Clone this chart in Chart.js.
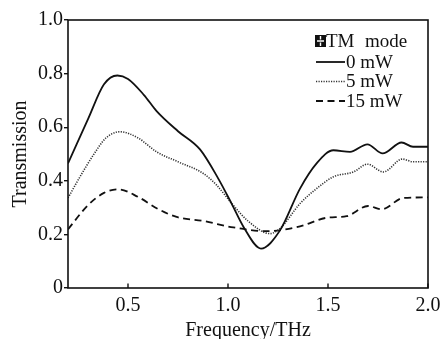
<!DOCTYPE html>
<html>
<head>
<title>Transmission</title>
<script src="https://cdn.jsdelivr.net/npm/chart.js@4/dist/chart.umd.min.js"></script>
<style>
  body { margin: 0; background: #fff; }
  #wrap { width: 440px; height: 339px; }
</style>
</head>
<body>
<div id="wrap"><canvas id="chart"></canvas></div>
<script>
// data
const freq0 = [0.2, 0.3, 0.38, 0.447, 0.5, 0.58, 0.643, 0.75, 0.86, 0.95, 1.018, 1.08, 1.165, 1.26, 1.36, 1.443, 1.527, 1.61, 1.697, 1.773, 1.868, 1.925, 2.0]
const trans0 = [0.465, 0.63, 0.76, 0.793, 0.78, 0.72, 0.66, 0.585, 0.517, 0.41, 0.315, 0.225, 0.147, 0.215, 0.371, 0.465, 0.514, 0.508, 0.536, 0.502, 0.543, 0.527, 0.527]

const freq5 = [0.2, 0.26, 0.33, 0.39, 0.46, 0.55, 0.643, 0.75, 0.877, 0.943, 1.018, 1.1, 1.21, 1.26, 1.36, 1.443, 1.527, 1.627, 1.697, 1.777, 1.872, 1.925, 2.0]
const trans5 = [0.336, 0.415, 0.5, 0.56, 0.583, 0.56, 0.508, 0.471, 0.427, 0.384, 0.316, 0.25, 0.203, 0.222, 0.315, 0.371, 0.415, 0.433, 0.462, 0.433, 0.481, 0.471, 0.471]

const freq15 = [0.2, 0.3, 0.38, 0.452, 0.55, 0.65, 0.743, 0.877, 1.027, 1.193, 1.36, 1.493, 1.593, 1.7, 1.768, 1.877, 2.0]
const trans15 = [0.219, 0.309, 0.355, 0.368, 0.34, 0.295, 0.265, 0.25, 0.226, 0.212, 0.23, 0.262, 0.268, 0.306, 0.294, 0.336, 0.338]

const seriesNames = ['0 mW', '5 mW', '15 mW']
const legendTitle = ['TM', 'mode']
const xTicks = [0.5, 1.0, 1.5, 2.0]
const xTickLabels = ['0.5', '1.0', '1.5', '2.0']
const yTicks = [0, 0.2, 0.4, 0.6, 0.8, 1.0]
const yTickLabels = ['0', '0.2', '0.4', '0.6', '0.8', '1.0']

const serif = "'Liberation Serif', 'DejaVu Serif', serif"

const pts = (xs, ys) => xs.map((x, i) => ({ x, y: ys[i] }))

const styles = [
    { dash: [], width: 1.8, color: '#111' },
    { dash: [1.2, 1.3], width: 1.6, color: '#333' },
    { dash: [7, 4.5], width: 1.8, color: '#111' },
]

// frame, inner x ticks and the hand-placed legend
const decor = {
    id: 'decor',
    afterDraw(chart) {
        const { ctx, chartArea: a, scales } = chart
        ctx.save()
        ctx.strokeStyle = '#111'
        ctx.lineWidth = 1.6
        ctx.strokeRect(a.left, a.top, a.right - a.left, a.bottom - a.top)

        // x ticks point inward
        ctx.lineWidth = 1.4
        scales.x.ticks.forEach(t => {
            const px = scales.x.getPixelForValue(t.value)
            ctx.beginPath()
            ctx.moveTo(px, a.bottom)
            ctx.lineTo(px, a.bottom - 4.5)
            ctx.stroke()
        })

        // legend
        const lx = 315, ly = 35
        ctx.fillStyle = '#111'
        ctx.fillRect(lx, ly, 11, 12)
        ctx.strokeStyle = '#fff'
        ctx.lineWidth = 1.4
        ctx.beginPath()
        ctx.moveTo(lx + 2, ly + 6); ctx.lineTo(lx + 9, ly + 6)
        ctx.moveTo(lx + 5.5, ly + 1); ctx.lineTo(lx + 5.5, ly + 4.5)
        ctx.moveTo(lx + 5.5, ly + 7.5); ctx.lineTo(lx + 5.5, ly + 11)
        ctx.stroke()

        ctx.fillStyle = '#111'
        ctx.font = '19px ' + serif
        ctx.textBaseline = 'alphabetic'
        ctx.textAlign = 'left'
        ctx.fillText(legendTitle[0], lx + 11, ly + 12)
        ctx.fillText(legendTitle[1], lx + 50, ly + 12)

        chart.data.datasets.forEach((ds, i) => {
            const y = 62 + i * 19.5
            const st = styles[i]
            ctx.strokeStyle = st.color
            ctx.lineWidth = st.width
            ctx.setLineDash(st.dash)
            ctx.beginPath()
            ctx.moveTo(lx + 1, y)
            ctx.lineTo(lx + 30, y)
            ctx.stroke()
            ctx.setLineDash([])
            ctx.fillText(ds.label, lx + 31, y + 5.5)
        })
        ctx.restore()
    },
}

new Chart('chart', {
    type: 'line',
    data: {
        datasets: [
            pts(freq0, trans0),
            pts(freq5, trans5),
            pts(freq15, trans15),
        ].map((data, i) => ({
            label: seriesNames[i],
            data,
            borderColor: styles[i].color,
            borderWidth: styles[i].width,
            borderDash: styles[i].dash,
            pointRadius: 0,
            fill: false,
            cubicInterpolationMode: 'monotone',
        })),
    },
    options: {
        responsive: true,
        maintainAspectRatio: false,
        animation: false,
        layout: { padding: { left: 0, top: 20, right: 12, bottom: 0 } },
        plugins: { legend: { display: false }, tooltip: { enabled: false } },
        scales: {
            x: {
                type: 'linear',
                min: 0.2,
                max: 2.0,
                afterBuildTicks: s => { s.ticks = xTicks.map(v => ({ value: v })) },
                afterFit: s => { s.height = 51; s.paddingLeft = 0; s.paddingRight = 0 },
                ticks: {
                    color: '#111',
                    padding: -2,
                    maxRotation: 0,
                    font: { family: serif, size: 20 },
                    callback: (v) => xTickLabels[xTicks.indexOf(v)],
                },
                grid: { display: false },
                border: { display: false },
                title: {
                    display: true,
                    text: 'Frequency/THz',
                    color: '#111',
                    font: { family: serif, size: 20 },
                    padding: { top: 0, bottom: -4 },
                },
            },
            y: {
                min: 0,
                max: 1,
                afterBuildTicks: s => { s.ticks = yTicks.map(v => ({ value: v })) },
                afterFit: s => { s.width = 68 },
                ticks: {
                    color: '#111',
                    padding: 1,
                    font: { family: serif, size: 20 },
                    callback: (v) => yTickLabels[yTicks.indexOf(v)],
                },
                grid: {
                    drawOnChartArea: false,
                    drawTicks: true,
                    tickLength: 4,
                    color: '#111',
                    lineWidth: 1.4,
                },
                border: { display: false },
                title: {
                    display: true,
                    text: 'Transmission',
                    color: '#111',
                    font: { family: serif, size: 20 },
                    padding: { top: 9, bottom: 0 },
                },
            },
        },
    },
    plugins: [decor],
})
</script>
</body>
</html>
